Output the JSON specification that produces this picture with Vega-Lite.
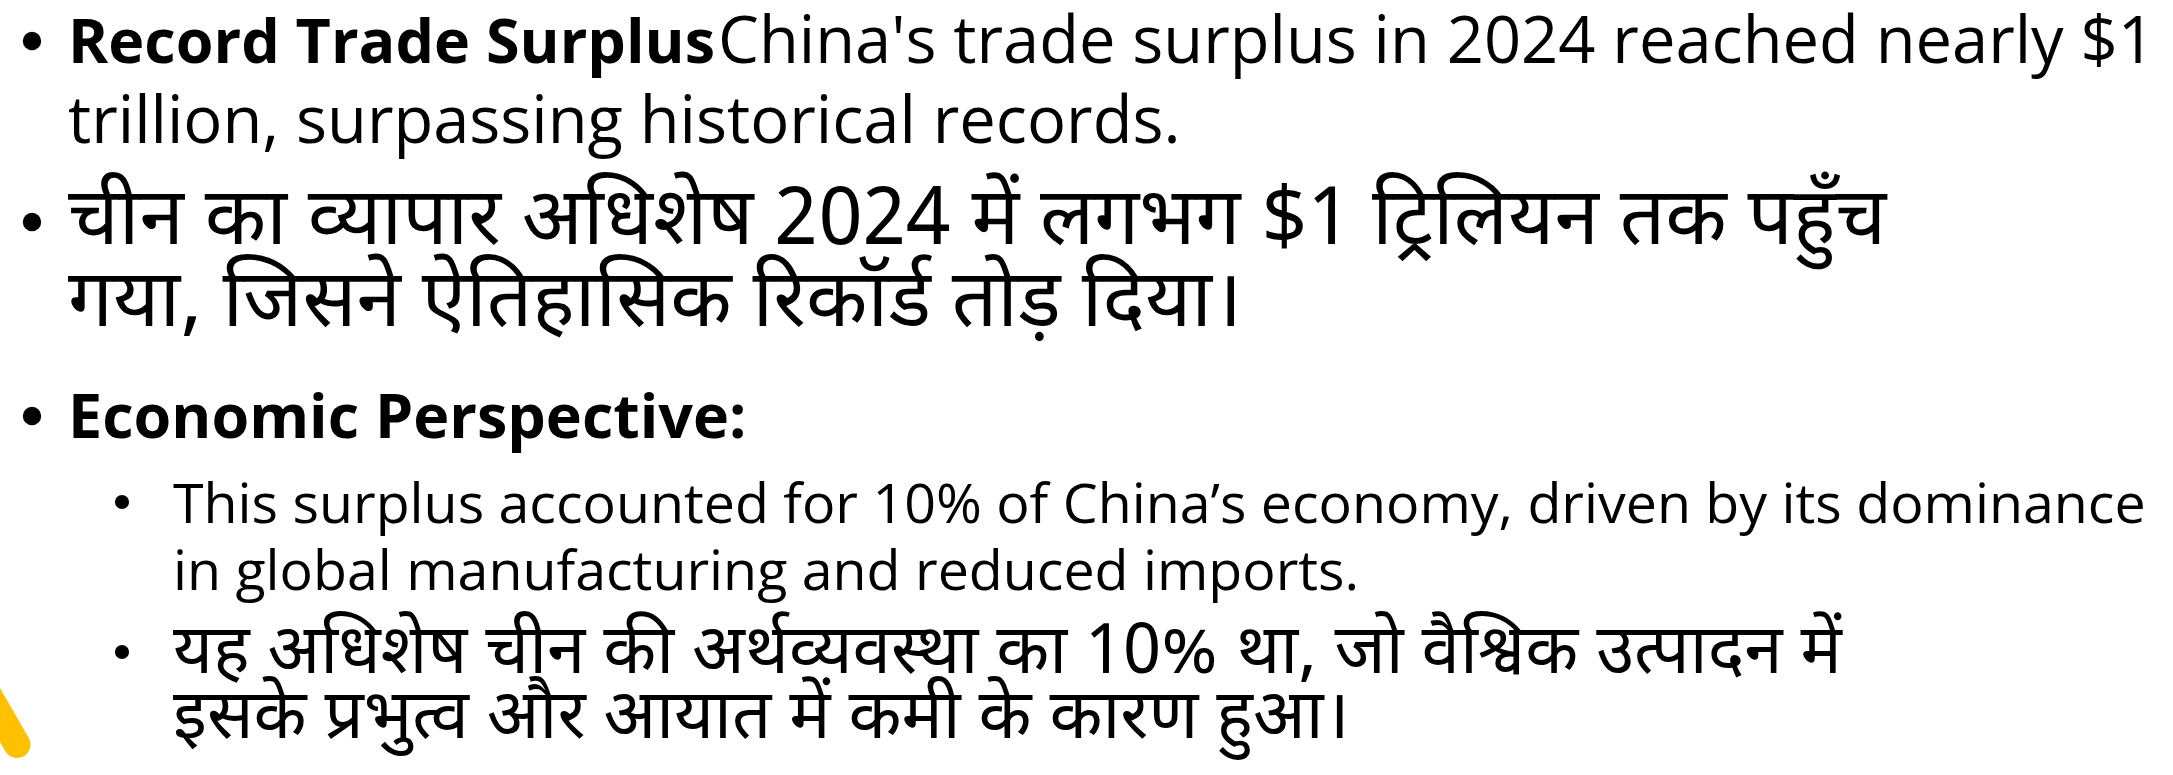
{
  "$schema": "https://vega.github.io/schema/vega-lite/v6.json",
  "width": 2173,
  "height": 775,
  "padding": 0,
  "autosize": {"type": "none"},
  "background": "white",
  "config": {
    "view": {"stroke": null},
    "text": {"font": "Open Sans, Noto Sans Devanagari, Noto Sans", "color": "#000000", "align": "left", "baseline": "alphabetic"}
  },
  "datasets": {
    "lines": [
      {"line": 1, "level": 1, "lang": "en", "emphasis": "strong", "seg": "head", "bullet": true, "text": "Record Trade Surplus"},
      {"line": 1, "level": 1, "lang": "en", "emphasis": "none", "seg": "cont", "bullet": false, "text": "China's trade surplus in 2024 reached nearly $1"},
      {"line": 2, "level": 1, "lang": "en", "emphasis": "none", "seg": "head", "bullet": false, "text": "trillion, surpassing historical records."},
      {"line": 3, "level": 1, "lang": "hi", "emphasis": "none", "seg": "head", "bullet": true, "text": "चीन का व्यापार अधिशेष 2024 में लगभग $1 ट्रिलियन तक पहुँच"},
      {"line": 4, "level": 1, "lang": "hi", "emphasis": "none", "seg": "head", "bullet": false, "text": "गया, जिसने ऐतिहासिक रिकॉर्ड तोड़ दिया।"},
      {"line": 5, "level": 1, "lang": "en", "emphasis": "strong", "seg": "head", "bullet": true, "text": "Economic Perspective:"},
      {"line": 6, "level": 2, "lang": "en", "emphasis": "none", "seg": "head", "bullet": true, "text": "This surplus accounted for 10% of China’s economy, driven by its dominance"},
      {"line": 7, "level": 2, "lang": "en", "emphasis": "none", "seg": "head", "bullet": false, "text": "in global manufacturing and reduced imports."},
      {"line": 8, "level": 2, "lang": "hi", "emphasis": "none", "seg": "head", "bullet": true, "text": "यह अधिशेष चीन की अर्थव्यवस्था का 10% था, जो वैश्विक उत्पादन में"},
      {"line": 9, "level": 2, "lang": "hi", "emphasis": "none", "seg": "head", "bullet": false, "text": "इसके प्रभुत्व और आयात में कमी के कारण हुआ।"}
    ],
    "accent": [
      {"level": 0.14, "line": 8.05, "level_end": 0.514, "line_end": 9.1}
    ]
  },
  "encoding": {
    "x": {"field": "level", "type": "quantitative", "axis": null,
          "scale": {"domain": [1, 2], "range": [68, 173], "zero": false, "nice": false}},
    "y": {"field": "line", "type": "quantitative", "axis": null,
          "scale": {"domain": [1, 2, 3, 4, 5, 6, 7, 8, 9], "range": [63, 143, 244, 326, 438, 523, 590, 673, 738], "zero": false, "nice": false}}
  },
  "layer": [
    {
      "data": {"name": "accent"},
      "mark": {"type": "rule", "color": "#FFC000", "strokeWidth": 27, "strokeCap": "round"},
      "encoding": {"x2": {"field": "level_end"}, "y2": {"field": "line_end"}}
    },
    {
      "data": {"name": "lines"},
      "transform": [{"filter": "datum.bullet && datum.level == 1"}],
      "mark": {"type": "circle", "color": "#000000", "opacity": 1, "size": 340, "xOffset": -36, "yOffset": -22}
    },
    {
      "data": {"name": "lines"},
      "transform": [{"filter": "datum.bullet && datum.level == 2"}],
      "mark": {"type": "circle", "color": "#000000", "opacity": 1, "size": 200, "xOffset": -51, "yOffset": -21}
    },
    {
      "data": {"name": "lines"},
      "transform": [{"filter": "datum.lang == 'en' && datum.level == 1 && datum.emphasis == 'strong'"}],
      "mark": {"type": "text", "fontSize": 61, "fontWeight": "bold"},
      "encoding": {"text": {"field": "text"}}
    },
    {
      "data": {"name": "lines"},
      "transform": [{"filter": "datum.lang == 'en' && datum.level == 1 && datum.emphasis != 'strong' && datum.seg != 'cont'"}],
      "mark": {"type": "text", "fontSize": 65},
      "encoding": {"text": {"field": "text"}}
    },
    {
      "data": {"name": "lines"},
      "transform": [{"filter": "datum.seg == 'cont'"}],
      "mark": {"type": "text", "fontSize": 65, "dx": 650},
      "encoding": {"text": {"field": "text"}}
    },
    {
      "data": {"name": "lines"},
      "transform": [{"filter": "datum.lang == 'hi' && datum.level == 1"}],
      "mark": {"type": "text", "fontSize": 80, "font": "Noto Sans Devanagari, Open Sans"},
      "encoding": {"text": {"field": "text"}}
    },
    {
      "data": {"name": "lines"},
      "transform": [{"filter": "datum.lang == 'en' && datum.level == 2"}],
      "mark": {"type": "text", "fontSize": 55.5},
      "encoding": {"text": {"field": "text"}}
    },
    {
      "data": {"name": "lines"},
      "transform": [{"filter": "datum.lang == 'hi' && datum.level == 2"}],
      "mark": {"type": "text", "fontSize": 69, "font": "Noto Sans Devanagari, Open Sans"},
      "encoding": {"text": {"field": "text"}}
    }
  ]
}
